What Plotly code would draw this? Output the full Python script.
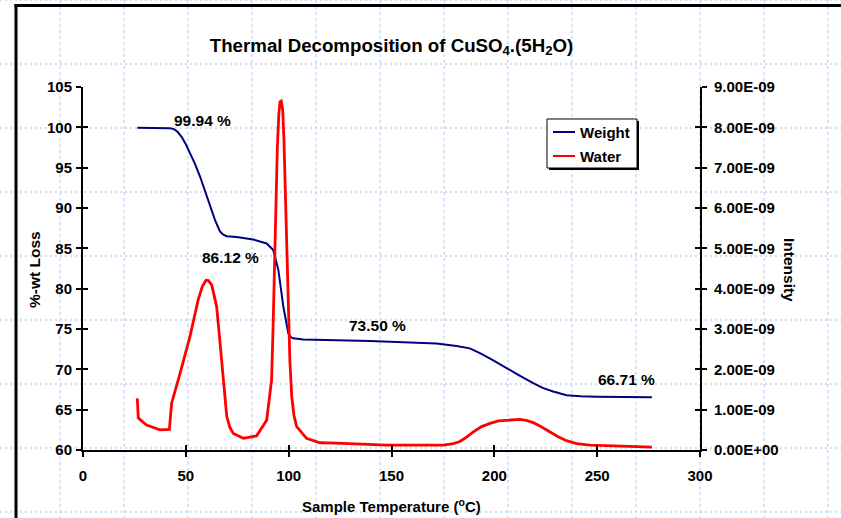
import plotly.graph_objects as go

# ---------------- data ----------------
weight_temp = [26.4, 42.0, 44.0, 46.0, 48.0, 50.0, 52.0, 54.4, 56.9, 59.3, 61.7, 64.2, 66.6,
               68.2, 69.9, 74.7, 82.8, 89.3, 92.5, 95.0, 97.4, 99.8, 101.0, 102.2, 107.1,
               115.2, 139.5, 171.9, 181.6, 188.1, 193.0, 199.5, 206.0, 212.5, 218.9, 223.5,
               228.6, 235.1, 242.0, 249.7, 276.6]
weight_pct = [99.94, 99.9, 99.8, 99.45, 98.8, 97.9, 96.8, 95.5, 93.9, 92.1, 90.2, 88.5, 87.1,
              86.7, 86.5, 86.4, 86.1, 85.6, 84.8, 82.3, 77.8, 74.5, 74.0, 73.85, 73.7,
              73.65, 73.5, 73.2, 72.9, 72.6, 72.0, 71.1, 70.1, 69.2, 68.3, 67.7,
              67.25, 66.8, 66.65, 66.6, 66.55]

water_temp = [26.4, 26.9, 30.9, 37.4, 42.0, 43.1, 47.2, 52.0, 56.0, 58.0, 59.8, 61.0, 62.6,
              64.0, 65.0, 66.2, 67.4, 68.6, 69.9, 71.5, 73.1, 78.0, 84.4, 89.3, 91.7, 92.5,
              93.3, 94.5, 95.2, 95.8, 96.4, 97.1, 97.7, 98.2, 99.0, 99.8, 100.6, 101.5,
              102.6, 103.9, 108.7, 115.2, 123.3, 147.6, 175.2, 180.0, 183.3, 186.5, 189.8,
              193.8, 197.9, 202.0, 206.0, 212.4, 216.0, 218.9, 223.0, 227.0, 231.0, 235.1,
              240.0, 246.5, 260.0, 276.6]
water_int_e9 = [1.28, 0.79, 0.62, 0.50, 0.51, 1.16, 1.90, 2.81, 3.72, 4.05, 4.21, 4.20, 4.09,
                3.80, 3.55, 2.90, 2.23, 1.40, 0.83, 0.55, 0.41, 0.29, 0.35, 0.74, 1.74, 3.20,
                5.04, 7.52, 8.30, 8.63, 8.65, 8.43, 7.70, 6.69, 5.00, 3.39, 2.20, 1.32,
                0.85, 0.58, 0.29, 0.18, 0.17, 0.12, 0.12, 0.16, 0.21, 0.32, 0.45,
                0.58, 0.66, 0.72, 0.74, 0.76, 0.73, 0.68, 0.57, 0.45, 0.33, 0.23,
                0.16, 0.12, 0.09, 0.07]
water_int = [v * 1e-9 for v in water_int_e9]

x_ticks = [0, 50, 100, 150, 200, 250, 300]
y_ticks = [60, 65, 70, 75, 80, 85, 90, 95, 100, 105]
y2_ticks = [i * 1e-9 for i in range(10)]
y2_ticktext = ["0.00E+00", "1.00E-09", "2.00E-09", "3.00E-09", "4.00E-09",
               "5.00E-09", "6.00E-09", "7.00E-09", "8.00E-09", "9.00E-09"]

series_names = ["Weight", "Water"]
series_colors = ["#000080", "#ff0000"]

step_labels = ["99.94 %", "86.12 %", "73.50 %", "66.71 %"]
step_pos = [(58.3, 100.8), (71.5, 83.9), (143.4, 75.4), (264.5, 68.7)]

# ---------------- geometry ----------------
W, H = 841, 518
L, R, T, B = 83, 700, 87, 450
PW, PH = R - L, B - T


def px_x(px):
    return (px - L) / PW


def px_y(py):
    return 1 - (py - T) / PH


FONT = "Liberation Sans, Arial, sans-serif"
tickfont = dict(family=FONT, size=15, color="black", weight=700)

fig = go.Figure()
fig.add_trace(go.Scatter(x=weight_temp, y=weight_pct, name=series_names[0], mode="lines",
                         line=dict(color=series_colors[0], width=2), yaxis="y",
                         showlegend=False))
fig.add_trace(go.Scatter(x=water_temp, y=water_int, name=series_names[1], mode="lines",
                         line=dict(color=series_colors[1], width=2.8), yaxis="y2",
                         showlegend=False))
# helper traces so the inner halves of the "cross" ticks get drawn
fig.add_trace(go.Scatter(x=[None], y=[None], xaxis="x2", yaxis="y3", showlegend=False,
                         hoverinfo="skip"))
fig.add_trace(go.Scatter(x=[None], y=[None], xaxis="x", yaxis="y4", showlegend=False,
                         hoverinfo="skip"))

axcommon = dict(showgrid=False, zeroline=False, showline=True, linecolor="black",
                linewidth=2, tickcolor="black", tickwidth=2, ticklen=5)

shapes = []
grid_col = "#c5d3f3"
for k in range(14):
    gx = 60 + 64 * k
    shapes.append(dict(type="line", xref="paper", yref="paper", x0=px_x(gx), x1=px_x(gx),
                       y0=px_y(0), y1=px_y(H), layer="below",
                       line=dict(color=grid_col, width=1.3, dash="3px,3px")))
for k in range(9):
    gy = 64 * k
    shapes.append(dict(type="line", xref="paper", yref="paper", x0=px_x(0), x1=px_x(W),
                       y0=px_y(gy), y1=px_y(gy), layer="below",
                       line=dict(color=grid_col, width=1.3, dash="2px,3px")))
# outer chart frame
shapes.append(dict(type="line", xref="paper", yref="paper", x0=px_x(16), x1=px_x(16),
                   y0=px_y(4), y1=px_y(H + 10), line=dict(color="black", width=3)))
shapes.append(dict(type="line", xref="paper", yref="paper", x0=px_x(14.5), x1=px_x(W + 10),
                   y0=px_y(5.5), y1=px_y(5.5), line=dict(color="black", width=3)))

# legend box (with shadow), drawn by hand to match the original size
lg_x0, lg_x1, lg_y0, lg_y1 = 547, 637, 119, 168
shapes.append(dict(type="rect", xref="paper", yref="paper", x0=px_x(lg_x0 + 2),
                   x1=px_x(lg_x1 + 2), y0=px_y(lg_y0 + 2), y1=px_y(lg_y1 + 2),
                   fillcolor="black", line=dict(width=0), layer="above"))
shapes.append(dict(type="rect", xref="paper", yref="paper", x0=px_x(lg_x0), x1=px_x(lg_x1),
                   y0=px_y(lg_y0), y1=px_y(lg_y1), fillcolor="white",
                   line=dict(color="black", width=1), layer="above"))

annotations = []
for i, (nm, col) in enumerate(zip(series_names, series_colors)):
    yy = 132 + 24 * i
    shapes.append(dict(type="line", xref="paper", yref="paper", x0=px_x(553), x1=px_x(575),
                       y0=px_y(yy), y1=px_y(yy), layer="above",
                       line=dict(color=col, width=2)))
    annotations.append(dict(x=px_x(578), y=px_y(yy), xref="paper", yref="paper", text=nm,
                            xanchor="left", yanchor="middle", showarrow=False,
                            font=dict(family=FONT, size=15, color="black", weight=700)))

for txt, (ax_, ay_) in zip(step_labels, step_pos):
    annotations.append(dict(x=ax_, y=ay_, xref="x", yref="y", text=txt, showarrow=False,
                            xanchor="center", yanchor="middle",
                            font=dict(family=FONT, size=15.5, color="black", weight=700)))
annotations.append(dict(x=px_x(34), y=px_y(270), xref="paper", yref="paper",
                        text="%-wt Loss", textangle=-90, showarrow=False,
                        xanchor="center", yanchor="middle",
                        font=dict(family=FONT, size=15.5, color="black", weight=700)))
annotations.append(dict(x=px_x(790), y=px_y(270), xref="paper", yref="paper",
                        text="Intensity", textangle=90, showarrow=False,
                        xanchor="center", yanchor="middle",
                        font=dict(family=FONT, size=15.5, color="black", weight=700)))
annotations.append(dict(x=0.5, y=px_y(505), xref="paper", yref="paper",
                        text="Sample Temperature (<sup>o</sup>C)", showarrow=False,
                        xanchor="center", yanchor="middle",
                        font=dict(family=FONT, size=15, color="black", weight=700)))

fig.update_layout(
    width=W, height=H,
    margin=dict(l=L, r=W - R, t=T, b=H - B, pad=0),
    paper_bgcolor="white", plot_bgcolor="rgba(0,0,0,0)",
    title=dict(text="Thermal Decomposition of CuSO<sub>4</sub>.(5H<sub>2</sub>O)",
               x=0.5, xref="paper", y=1 - 45 / H, yref="container", yanchor="middle",
               font=dict(family=FONT, size=18.7, color="black", weight=700)),
    xaxis=dict(range=[0, 300], tickvals=x_ticks, ticks="outside", tickfont=tickfont,
               ticklabelstandoff=6, **axcommon),
    xaxis2=dict(range=[0, 300], tickvals=x_ticks, ticks="inside", showticklabels=False,
                overlaying="x", anchor="y", side="bottom", **axcommon),
    yaxis=dict(range=[60, 105], tickvals=y_ticks, ticks="outside", tickfont=tickfont,
               ticklabelstandoff=1, **axcommon),
    yaxis2=dict(range=[0, 9e-9], tickvals=y2_ticks, ticktext=y2_ticktext, ticks="outside",
                overlaying="y", side="right", anchor="x", tickfont=tickfont,
                ticklabelstandoff=4, **axcommon),
    yaxis3=dict(range=[60, 105], tickvals=y_ticks, ticks="inside", showticklabels=False,
                overlaying="y", side="left", anchor="x", **axcommon),
    yaxis4=dict(range=[60, 105], tickvals=y_ticks, ticks="inside", showticklabels=False,
                overlaying="y", side="right", anchor="x", **axcommon),
    shapes=shapes,
    annotations=annotations,
    showlegend=False,
)

fig.write_html("out.html", config={"displayModeBar": False},
               post_script="document.body.style.margin='0px';")
